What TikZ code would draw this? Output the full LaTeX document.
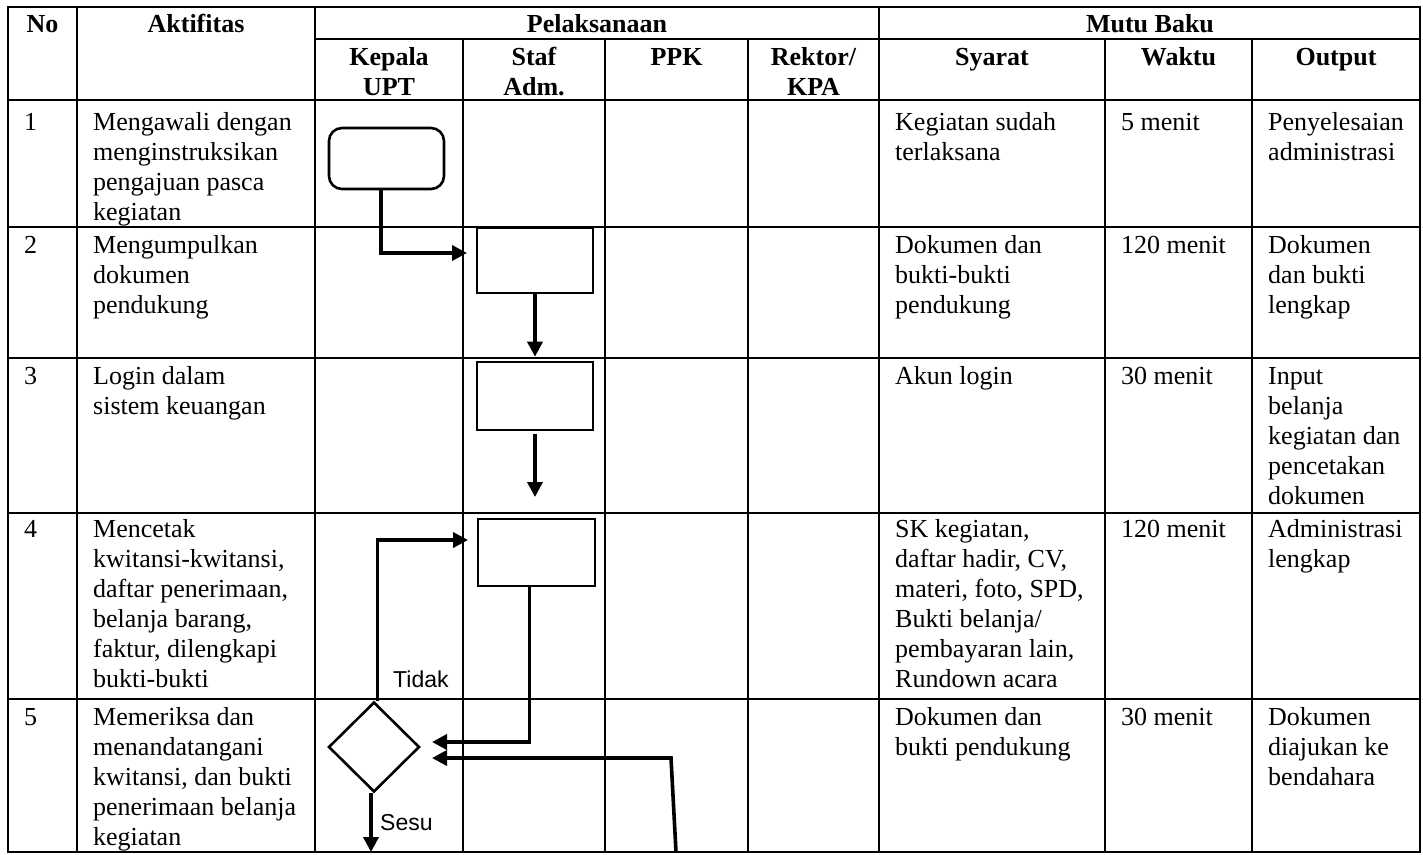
\documentclass[tikz,border=0pt]{standalone}
\usepackage{fontspec}
\setmainfont{Liberation Serif}
\newfontfamily\labelsans{Liberation Sans}
\usetikzlibrary{arrows.meta,shapes.geometric}
\newcommand\bodyfont{\fontsize{26}{30}\selectfont}
\newcommand\hdrfont{\fontsize{26}{30}\selectfont\bfseries}
\newcommand\lblfont{\labelsans\fontsize{23}{27}\selectfont}
\begin{document}
\begin{tikzpicture}[x=1pt,y=-1pt,
  grid/.style={line width=2.6pt, line cap=rect},
  cell/.style={anchor=north west, inner sep=0pt, align=left, font=\bodyfont},
  hcell/.style={anchor=north, inner sep=0pt, align=center, font=\hdrfont},
  lbl/.style={anchor=base west, inner sep=0pt, font=\lblfont},
  procbox/.style={draw, line width=2.6pt, inner sep=0pt},
  arr/.style={line width=3.6pt, -{Triangle[length=15pt,width=15pt]}}
]
\fill[white] (0,0) rectangle (1423,854);
\useasboundingbox (0,0) rectangle (1423,854);

% ---- table grid ----
\draw[grid] (8,7) rectangle (1420,852);
\draw[grid] (315,39) -- (1420,39);
\foreach \yy in {100,227,358,513,699} \draw[grid] (8,\yy) -- (1420,\yy);
\foreach \xx in {77,315,879} \draw[grid] (\xx,7) -- (\xx,852);
\foreach \xx in {463,605,748,1105,1252} \draw[grid] (\xx,39) -- (\xx,852);

% ---- header ----
\node[hcell] (hno)  at (42.5,11) {\strut No};
\node[hcell] (hakt) at (196,11) {\strut Aktifitas};
\node[hcell] (hpel) at (597,11) {\strut Pelaksanaan};
\node[hcell] (hmut) at (1150,11) {\strut Mutu Baku};
\node[hcell] (hkep) at (389,44) {\strut Kepala\\UPT};
\node[hcell] (hstf) at (534,44) {\strut Staf\\Adm.};
\node[hcell] (hppk) at (676.5,44) {\strut PPK};
\node[hcell] (hrek) at (813.5,44) {\strut Rektor/\\KPA};
\node[hcell] (hsya) at (992,44) {\strut Syarat};
\node[hcell] (hwak) at (1178.5,44) {\strut Waktu};
\node[hcell] (hout) at (1336,44) {\strut Output};

% ---- row 1 ----
\node[cell] (n1) at (24,109) {\strut 1};
\node[cell] (a1) at (93,109) {\strut Mengawali dengan\\menginstruksikan\\pengajuan pasca\\kegiatan};
\node[cell] (s1) at (895,109) {\strut Kegiatan sudah\\terlaksana};
\node[cell] (w1) at (1121,109) {\strut 5 menit};
\node[cell] (o1) at (1268,109) {\strut Penyelesaian\\administrasi};
% ---- row 2 ----
\node[cell] (n2) at (24,232) {\strut 2};
\node[cell] (a2) at (93,232) {\strut Mengumpulkan\\dokumen\\pendukung};
\node[cell] (s2) at (895,232) {\strut Dokumen dan\\bukti-bukti\\pendukung};
\node[cell] (w2) at (1121,232) {\strut 120 menit};
\node[cell] (o2) at (1268,232) {\strut Dokumen\\dan bukti\\lengkap};
% ---- row 3 ----
\node[cell] (n3) at (24,363) {\strut 3};
\node[cell] (a3) at (93,363) {\strut Login dalam\\sistem keuangan};
\node[cell] (s3) at (895,363) {\strut Akun login};
\node[cell] (w3) at (1121,363) {\strut 30 menit};
\node[cell] (o3) at (1268,363) {\strut Input\\belanja\\kegiatan dan\\pencetakan\\dokumen};
% ---- row 4 ----
\node[cell] (n4) at (24,516) {\strut 4};
\node[cell] (a4) at (93,516) {\strut Mencetak\\kwitansi-kwitansi,\\daftar penerimaan,\\belanja barang,\\faktur, dilengkapi\\bukti-bukti};
\node[cell] (s4) at (895,516) {\strut SK kegiatan,\\daftar hadir, CV,\\materi, foto, SPD,\\Bukti belanja/\\pembayaran lain,\\Rundown acara};
\node[cell] (w4) at (1121,516) {\strut 120 menit};
\node[cell] (o4) at (1268,516) {\strut Administrasi\\lengkap};
% ---- row 5 ----
\node[cell] (n5) at (24,704) {\strut 5};
\node[cell] (a5) at (93,704) {\strut Memeriksa dan\\menandatangani\\kwitansi, dan bukti\\penerimaan belanja\\kegiatan};
\node[cell] (s5) at (895,704) {\strut Dokumen dan\\bukti pendukung};
\node[cell] (w5) at (1121,704) {\strut 30 menit};
\node[cell] (o5) at (1268,704) {\strut Dokumen\\diajukan ke\\bendahara};

% ---- flow shapes ----
\node[procbox, rounded corners=13pt, minimum width=115pt, minimum height=61pt] (A) at (386.5,158.5) {};
\node[procbox, minimum width=116pt, minimum height=65pt] (B) at (535,260.5) {};
\node[procbox, minimum width=116pt, minimum height=68pt] (C) at (535,396) {};
\node[procbox, minimum width=117pt, minimum height=67pt] (D) at (536.5,552.5) {};
\node[procbox, diamond, minimum width=91pt, minimum height=90pt] (E) at (374,747) {};

% ---- connector end points ----
\coordinate (t1) at (467,253);
\coordinate (t3) at (535,497);
\coordinate (t4) at (432,742);
\coordinate (t5) at (468,540);
\coordinate (s6) at (676,852);
\coordinate (k6) at (671,758);
\coordinate (t6) at (432,758);
\coordinate (t7) at (371,852);

% ---- connectors ----
\draw[arr] ([xshift=-5.5pt]A.south) |- (t1);
\draw[arr] (B.south) -- ([yshift=4pt]C.north);
\draw[arr] ([yshift=-3pt]C.south) -- (t3);
\draw[arr] ([xshift=-7pt]D.south) |- (t4);
\draw[arr] ([xshift=3.5pt]E.north) |- (t5);
\draw[arr] (s6) -- (k6) -- (t6);
\draw[arr] ([xshift=-3pt]E.south) -- (t7);

\node[lbl] (tidak) at (393,687) {Tidak};
\node[lbl] (sesu) at (380,830) {Sesu};
\end{tikzpicture}
\end{document}
